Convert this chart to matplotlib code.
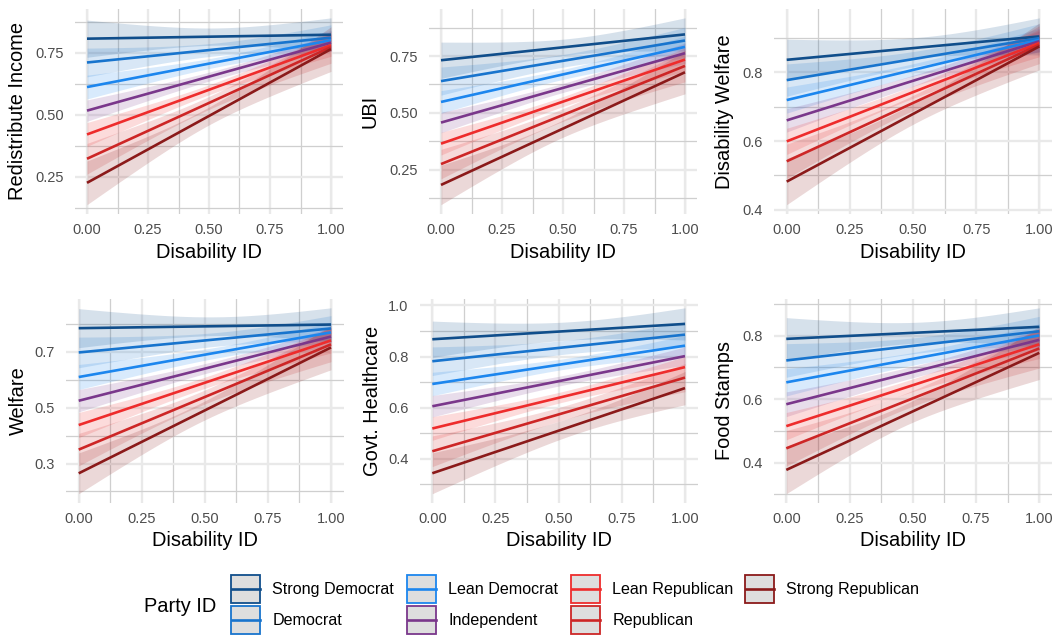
import numpy as np
import matplotlib
matplotlib.use("Agg")
import matplotlib.pyplot as plt
from matplotlib.patches import Rectangle
from matplotlib.lines import Line2D
from matplotlib.ticker import FixedLocator, FormatStrFormatter

plt.rcParams['font.family'] = ['Liberation Sans', 'DejaVu Sans']

# ---- party groups -------------------------------------------------------
parties = ["Strong Democrat", "Democrat", "Lean Democrat", "Independent",
           "Lean Republican", "Republican", "Strong Republican"]
party_colors = ["#104E8B", "#1874CD", "#1C86EE", "#7A378B",
                "#EE2C2C", "#CD2626", "#8B1A1A"]

# ---- predicted support at Disability ID = 0 and 1, and CI half-widths ----
# (half-widths given at Disability ID = 0, 0.5 and 1)
redist_at0 = [0.806, 0.710, 0.611, 0.516, 0.420, 0.322, 0.225]
redist_at1 = [0.822, 0.810, 0.800, 0.790, 0.780, 0.772, 0.764]
redist_ci0 = [0.075, 0.058, 0.048, 0.043, 0.048, 0.062, 0.088]
redist_cim = [0.035, 0.026, 0.020, 0.018, 0.020, 0.026, 0.036]
redist_ci1 = [0.068, 0.052, 0.040, 0.035, 0.045, 0.065, 0.090]

ubi_at0 = [0.732, 0.640, 0.548, 0.457, 0.364, 0.274, 0.182]
ubi_at1 = [0.846, 0.819, 0.791, 0.763, 0.735, 0.707, 0.679]
ubi_ci0 = [0.080, 0.062, 0.050, 0.045, 0.050, 0.065, 0.087]
ubi_cim = [0.036, 0.028, 0.022, 0.020, 0.022, 0.028, 0.038]
ubi_ci1 = [0.073, 0.058, 0.048, 0.045, 0.052, 0.070, 0.095]

diswel_at0 = [0.836, 0.777, 0.719, 0.660, 0.599, 0.541, 0.482]
diswel_at1 = [0.904, 0.899, 0.894, 0.890, 0.885, 0.880, 0.875]
diswel_ci0 = [0.060, 0.047, 0.038, 0.034, 0.038, 0.050, 0.067]
diswel_cim = [0.030, 0.022, 0.018, 0.016, 0.018, 0.022, 0.030]
diswel_ci1 = [0.054, 0.042, 0.034, 0.030, 0.040, 0.055, 0.068]

welfare_at0 = [0.785, 0.698, 0.610, 0.525, 0.438, 0.350, 0.265]
welfare_at1 = [0.798, 0.784, 0.770, 0.755, 0.741, 0.727, 0.716]
welfare_ci0 = [0.070, 0.055, 0.045, 0.040, 0.045, 0.058, 0.073]
welfare_cim = [0.034, 0.025, 0.020, 0.018, 0.020, 0.025, 0.034]
welfare_ci1 = [0.060, 0.046, 0.036, 0.033, 0.045, 0.062, 0.080]

health_at0 = [0.868, 0.782, 0.693, 0.606, 0.519, 0.430, 0.344]
health_at1 = [0.928, 0.886, 0.843, 0.802, 0.759, 0.718, 0.677]
health_ci0 = [0.071, 0.056, 0.046, 0.042, 0.046, 0.060, 0.080]
health_cim = [0.036, 0.027, 0.021, 0.019, 0.021, 0.027, 0.036]
health_ci1 = [0.063, 0.050, 0.040, 0.036, 0.042, 0.055, 0.065]

food_at0 = [0.790, 0.722, 0.653, 0.584, 0.515, 0.445, 0.377]
food_at1 = [0.828, 0.814, 0.801, 0.787, 0.773, 0.760, 0.746]
food_ci0 = [0.067, 0.053, 0.043, 0.039, 0.043, 0.056, 0.075]
food_cim = [0.033, 0.025, 0.020, 0.018, 0.020, 0.025, 0.034]
food_ci1 = [0.060, 0.047, 0.037, 0.034, 0.045, 0.062, 0.084]

outcome_labels = ["Redistribute Income", "UBI", "Disability Welfare",
                  "Welfare", "Govt. Healthcare", "Food Stamps"]
y_breaks = [[0.25, 0.50, 0.75], [0.25, 0.50, 0.75], [0.4, 0.6, 0.8],
            [0.3, 0.5, 0.7], [0.4, 0.6, 0.8, 1.0], [0.4, 0.6, 0.8]]
y_formats = ["%.2f", "%.2f", "%.1f", "%.1f", "%.1f", "%.1f"]
x_breaks = [0.0, 0.25, 0.50, 0.75, 1.0]

panels = [
    (redist_at0, redist_at1, redist_ci0, redist_cim, redist_ci1),
    (ubi_at0, ubi_at1, ubi_ci0, ubi_cim, ubi_ci1),
    (diswel_at0, diswel_at1, diswel_ci0, diswel_cim, diswel_ci1),
    (welfare_at0, welfare_at1, welfare_ci0, welfare_cim, welfare_ci1),
    (health_at0, health_at1, health_ci0, health_cim, health_ci1),
    (food_at0, food_at1, food_ci0, food_cim, food_ci1),
]

# ---- layout in pixels ----------------------------------------------------
W, H = 1058, 637
fig = plt.figure(figsize=(W / 100, H / 100), dpi=100)

# (pixel of x=0, pixel of x=1, top, bottom, y-title centre)
geom = [
    (87.0, 331.0, 8.5, 214.0, 18),
    (441.0, 685.0, 8.5, 214.0, 370),
    (786.7, 1039.3, 8.5, 214.0, 725),
    (78.7, 331.0, 298.5, 503.0, 18),
    (432.3, 685.0, 298.5, 503.0, 372),
    (786.3, 1039.3, 298.5, 503.0, 725),
]

GRID_MAJOR = "#e9e9e9"
GRID_MINOR = "#cfcfcf"
xs = np.linspace(0, 1, 121)


def halfwidth(x, h0, hm, h1):
    # prediction variance is quadratic in x for a linear model
    v0, vm, v1 = h0 ** 2, hm ** 2, h1 ** 2
    c = 2 * (v1 - 2 * vm + v0)
    b = v1 - v0 - c
    return np.sqrt(np.maximum(v0 + b * x + c * x ** 2, 0))


for i, ((at0, at1, ci0, cim, ci1), (x0p, x1p, top, bot, ylab_x)) in enumerate(zip(panels, geom)):
    span = x1p - x0p
    left = x0p - 0.05 * span
    right = x1p + 0.05 * span
    ax = fig.add_axes([left / W, 1 - bot / H, (right - left) / W, (bot - top) / H])

    lows, highs = [], []
    for k in range(len(parties)):
        mean = at0[k] + (at1[k] - at0[k]) * xs
        hw = halfwidth(xs, ci0[k], cim[k], ci1[k])
        lo, hi = mean - hw, mean + hw
        lows.append(lo.min())
        highs.append(hi.max())
        ax.fill_between(xs, lo, hi, color=party_colors[k], alpha=0.17,
                        linewidth=0, zorder=2)
    for k in range(len(parties)):
        ax.plot([0, 1], [at0[k], at1[k]], color=party_colors[k], lw=1.9,
                solid_capstyle="butt", zorder=3)

    ymin, ymax = min(lows), max(highs)
    pad = 0.05 * (ymax - ymin)
    ax.set_xlim(-0.05, 1.05)
    ax.set_ylim(ymin - pad, ymax + pad)

    yb = y_breaks[i]
    step = yb[1] - yb[0]
    yminor = [yb[0] - step / 2] + [b + step / 2 for b in yb]
    ax.yaxis.set_major_locator(FixedLocator(yb))
    ax.yaxis.set_minor_locator(FixedLocator(yminor))
    ax.yaxis.set_major_formatter(FormatStrFormatter(y_formats[i]))
    ax.xaxis.set_major_locator(FixedLocator(x_breaks))
    ax.xaxis.set_minor_locator(FixedLocator([0.125, 0.375, 0.625, 0.875]))
    ax.xaxis.set_major_formatter(FormatStrFormatter("%.2f"))

    ax.grid(which="major", color=GRID_MAJOR, lw=1.7, zorder=0)
    ax.grid(which="minor", color=GRID_MINOR, lw=0.9, zorder=0)
    for xe in (0.0, 1.0):
        ax.axvline(xe, color=GRID_MINOR, lw=0.9, zorder=0.5)
    ax.set_axisbelow(True)
    for s in ax.spines.values():
        s.set_visible(False)
    ax.tick_params(which="both", length=0)
    ax.tick_params(axis="x", labelsize=10.5, labelcolor="#4d4d4d", pad=6.5)
    ax.tick_params(axis="y", labelsize=10.5, labelcolor="#4d4d4d", pad=8)

    hpx = bot - top
    wpx = right - left
    ax.set_xlabel("Disability ID", fontsize=14.4, color="black")
    ax.xaxis.label.set_va("center")
    ax.xaxis.set_label_coords(0.5, -38.0 / hpx)
    ax.set_ylabel(outcome_labels[i], fontsize=14.4, color="black")
    ax.yaxis.label.set(rotation_mode="default", va="center", ha="center")
    ax.yaxis.set_label_coords((ylab_x - left) / wpx, 0.5)

# ---- legend --------------------------------------------------------------
leg = fig.add_axes([0, 0, 1, 1])
leg.set_xlim(0, W)
leg.set_ylim(H, 0)
leg.axis("off")
leg.text(144, 607, "Party ID", fontsize=14.4, ha="left", va="center")
col_box = [230.5, 406.5, 570.5, 744.5]
row_top = [574.5, 605.5]
box_w, box_h = 30, 29.5
for k, (name, col) in enumerate(zip(parties, party_colors)):
    c, r = k // 2, k % 2
    bx, by = col_box[c], row_top[r]
    leg.add_patch(Rectangle((bx + 0.75, by + 0.75), box_w - 1.5, box_h - 1.5,
                            facecolor="#dedede", edgecolor=col, lw=1.3))
    leg.add_line(Line2D([bx + 1, bx + box_w - 1], [by + box_h / 2] * 2,
                        color=col, lw=1.9))
    leg.text(bx + box_w + 12, by + box_h / 2, name, fontsize=11.6,
             ha="left", va="center")

fig.savefig("out.png", dpi=100)
